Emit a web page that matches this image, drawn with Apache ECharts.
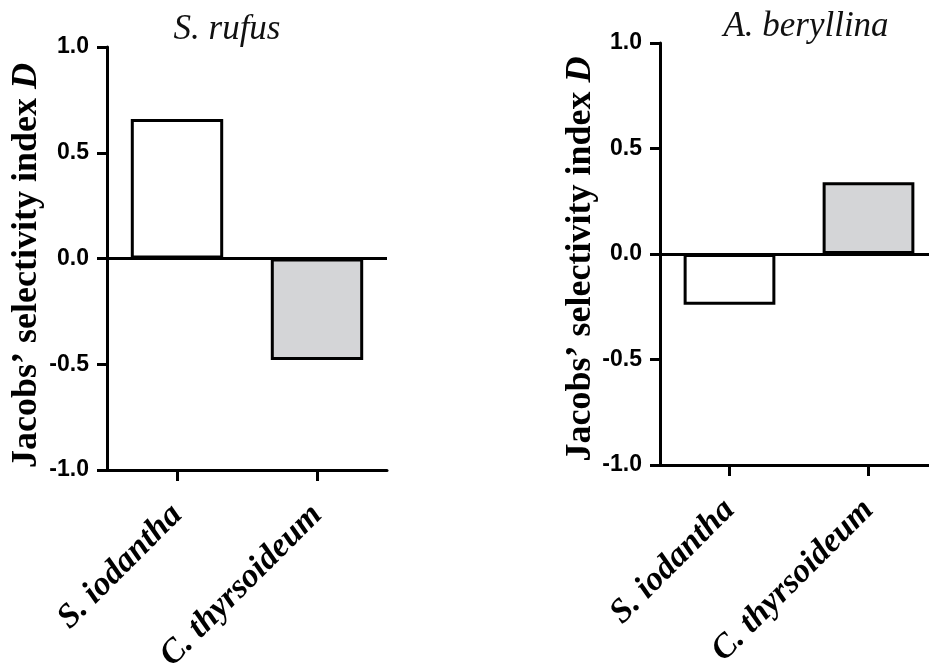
<!DOCTYPE html>
<html>
<head>
<meta charset="utf-8">
<script src="https://cdn.jsdelivr.net/npm/echarts@6/dist/echarts.min.js"></script>
<style>
  html, body { margin: 0; padding: 0; background: #fff; }
  #chart { width: 929px; height: 664px; }
</style>
</head>
<body>
<div id="chart"></div>
<script>
// Jacobs' selectivity index D for two nectar plants, by bird species
const categories = ['S. iodantha', 'C. thyrsoideum'];
const panelTitles = ['S. rufus', 'A. beryllina'];
const rufusValues = [0.66, -0.48];
const beryllinaValues = [-0.24, 0.34];
const yTicks = [-1.0, -0.5, 0.0, 0.5, 1.0];

const barFills = ['#ffffff', '#d4d5d7'];
const ink = '#000000';
const serif = '"Liberation Serif", "DejaVu Serif", serif';
const sans = '"Liberation Sans", Arial, sans-serif';

// fixed plot boxes; labels are allowed to run to the canvas edge
const grids = [
  { left: 107, top: 47, width: 280, height: 423, containLabel: false, outerBoundsMode: 'none' },
  { left: 660, top: 43, width: 278, height: 422, containLabel: false, outerBoundsMode: 'none' }
];

function xAxisFor(i) {
  return {
    type: 'category',
    gridIndex: i,
    data: categories,
    position: 'bottom',
    axisLine: { onZero: false, lineStyle: { color: ink, width: 3 } },
    axisTick: { show: true, alignWithLabel: true, length: 11, lineStyle: { color: ink, width: 3 } },
    axisLabel: {
      rotate: 45,
      margin: 40,
      interval: 0,
      color: ink,
      fontFamily: serif,
      fontStyle: 'italic',
      fontWeight: 'bold',
      fontSize: 34
    }
  };
}

function yAxisFor(i, gap, shift) {
  return {
    type: 'value',
    gridIndex: i,
    min: yTicks[0],
    max: yTicks[yTicks.length - 1],
    interval: 0.5,
    splitLine: { show: false },
    axisLine: { show: true, lineStyle: { color: ink, width: 3 } },
    axisTick: { show: true, length: 10, lineStyle: { color: ink, width: 3 } },
    axisLabel: {
      margin: 18,
      color: ink,
      fontFamily: sans,
      fontWeight: 'bold',
      fontSize: 23,
      formatter: v => v.toFixed(1)
    },
    name: 'Jacobs\u2019 selectivity index {d|D}',
    nameLocation: 'middle',
    nameGap: gap,
    nameRotate: 90,
    nameTextStyle: {
      color: ink,
      fontFamily: serif,
      fontWeight: 'bold',
      fontSize: 36,
      padding: [0, shift, 0, 0],
      rich: {
        d: { fontFamily: serif, fontWeight: 'bold', fontStyle: 'italic', fontSize: 36, color: ink }
      }
    }
  };
}

function barSeries(i, values) {
  return {
    type: 'bar',
    xAxisIndex: i,
    yAxisIndex: i,
    barWidth: '66%',
    data: values.map((v, k) => ({
      value: v,
      itemStyle: { color: barFills[k], borderColor: ink, borderWidth: 3 }
    })),
    markLine: {
      silent: true,
      symbol: 'none',
      label: { show: false },
      lineStyle: { color: ink, width: 3, type: 'solid' },
      data: [{ yAxis: 0 }]
    }
  };
}

const chart = echarts.init(document.getElementById('chart'), null, { renderer: 'canvas' });
chart.setOption({
  backgroundColor: '#ffffff',
  animation: false,
  title: [
    {
      text: panelTitles[0], left: 222, top: 7, textAlign: 'center',
      textStyle: { fontFamily: serif, fontStyle: 'italic', fontWeight: 'normal', fontSize: 35, color: '#111' }
    },
    {
      text: panelTitles[1], left: 801, top: 4, textAlign: 'center',
      textStyle: { fontFamily: serif, fontStyle: 'italic', fontWeight: 'normal', fontSize: 35, color: '#111' }
    }
  ],
  grid: grids,
  xAxis: [xAxisFor(0), xAxisFor(1)],
  yAxis: [yAxisFor(0, 62, 14), yAxisFor(1, 58, 10)],
  series: [barSeries(0, rufusValues), barSeries(1, beryllinaValues)]
});
</script>
</body>
</html>
